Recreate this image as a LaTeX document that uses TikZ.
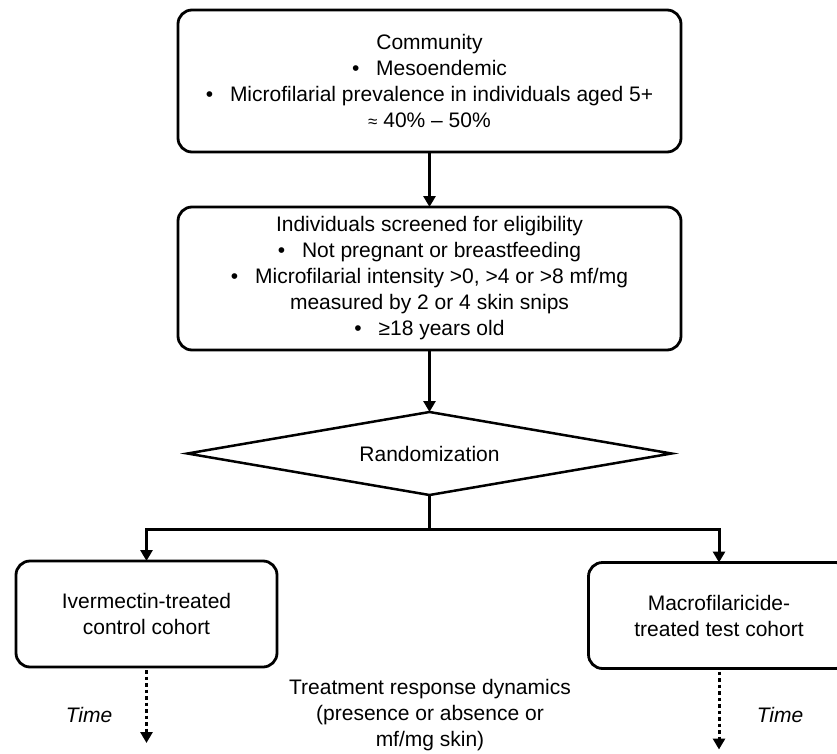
\documentclass[tikz,border=0pt]{standalone}
\usepackage{fontspec}
\setmainfont{Liberation Sans}
\usetikzlibrary{shapes.geometric, arrows.meta, positioning}

\begin{document}
\begin{tikzpicture}[
    x=1pt, y=1pt,
    node distance=55pt,
    font=\fontsize{21}{26}\selectfont,
    box/.style={rectangle, rounded corners=14pt, draw, line width=2.8pt, align=center, inner sep=0pt, outer sep=0pt},
    topbox/.style={box, minimum width=503pt, minimum height=142pt},
    cohort/.style={box, minimum width=261pt, minimum height=106pt},
    decision/.style={diamond, draw, line width=2.5pt, minimum width=484pt, minimum height=83pt, aspect=5.8, inner sep=0pt, outer sep=0pt},
    arrow/.style={line width=3pt, -{Triangle[width=12pt, length=11pt]}},
    timeline/.style={line width=3pt, dash pattern=on 3.5pt off 3pt, shorten <=3pt, -{Triangle[width=12pt, length=11pt]}},
    timelbl/.style={font=\fontsize{21}{26}\selectfont\itshape}
  ]
    \useasboundingbox (0,0) rectangle (837,-754);
    \clip (0,0) rectangle (837,-754);
    \node[topbox] (comm) at (429.5,-81) {Community\\ •\hspace{0.8em}Mesoendemic\\ •\hspace{0.8em}Microfilarial prevalence in individuals aged 5+\\ {\fontsize{17}{26}\selectfont ≈} 40\% – 50\%};
    \node[topbox, below=of comm, minimum height=143pt] (screen) {Individuals screened for eligibility\\ •\hspace{0.8em}Not pregnant or breastfeeding\\ •\hspace{0.8em}Microfilarial intensity >0, >4 or >8 mf/mg\\ measured by 2 or 4 skin snips\\ •\hspace{0.8em}≥18 years old};
    \node[decision, below=62pt of screen] (rand) {Randomization};
    \coordinate[below=34pt of rand] (split);
    \node[cohort] (ctrl) at (146.5,-614) {Ivermectin-treated\\ control cohort};
    \node[cohort] (test) at (719,-615.5) {Macrofilaricide-\\ treated test cohort};
    \coordinate[below=76pt of ctrl.south] (ctrlend);
    \coordinate[below=81pt of test.south] (testend);
    \node[timelbl] (ctrltime) at (89,-715) {Time};
    \node[timelbl] (testtime) at (780,-715) {Time};
    \node[align=center] (resp) at (430,-715) {Treatment response dynamics\\ (presence or absence or\\ mf/mg skin)};
    \draw[arrow] (comm) -- (screen);
    \draw[arrow] (screen) -- (rand);
    \draw[line width=3pt] (rand.south) -- (split);
    \draw[arrow] (split) -| (ctrl);
    \draw[arrow] (split) -| (test);
    \draw[timeline] (ctrl) -- (ctrlend);
    \draw[timeline] (test) -- (testend);
  \end{tikzpicture}
\end{document}
